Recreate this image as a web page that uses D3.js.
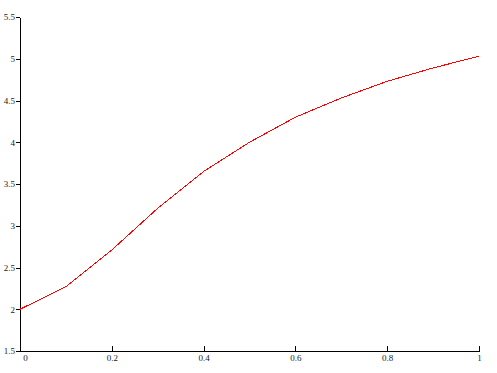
<!DOCTYPE html>
<html>
<head>
<meta charset="utf-8">
<script src="https://cdnjs.cloudflare.com/ajax/libs/d3/7.8.5/d3.min.js"></script>
<style>
  body { margin: 0; background: #fff; }
  .axis text { font-family: "Liberation Serif", serif; font-size: 9px; fill: #222; }
  .axis path, .axis line { stroke: #000; shape-rendering: crispEdges; }
  .line { fill: none; stroke: #ff0000; stroke-width: 1; shape-rendering: crispEdges; }
</style>
</head>
<body>
<div id="chart"></div>
<script>
var xValues = [0, 0.1, 0.2, 0.3, 0.4, 0.5, 0.6, 0.7, 0.8, 0.9, 1];
var yValues = [2.0, 2.27, 2.71, 3.21, 3.65, 4.0, 4.3, 4.53, 4.73, 4.89, 5.03];
var xTicks = [0, 0.2, 0.4, 0.6, 0.8, 1];
var yTicks = [1.5, 2, 2.5, 3, 3.5, 4, 4.5, 5, 5.5];

var width = 497, height = 373;

var svg = d3.select("#chart").append("svg")
    .attr("width", width)
    .attr("height", height);

var x = d3.scaleLinear().domain([0, 1]).range([20, 479]);
var y = d3.scaleLinear().domain([1.5, 5.5]).range([351, 17]);

var xAxis = d3.axisBottom(x).tickValues(xTicks).tickSizeInner(-5).tickSizeOuter(0).tickPadding(4)
    .tickFormat(function(d) { return d3.format("")(d); });
var yAxis = d3.axisLeft(y).tickValues(yTicks).tickSizeInner(4).tickSizeOuter(0).tickPadding(1)
    .tickFormat(function(d) { return d3.format("")(d); });

var gx = svg.append("g").attr("class", "x axis")
    .attr("transform", "translate(0,351)")
    .call(xAxis);
// first label nudged right so it clears the y axis
gx.selectAll(".tick text").filter(function(d) { return d === 0; }).attr("dx", 5);

svg.append("g").attr("class", "y axis")
    .attr("transform", "translate(20,0)")
    .call(yAxis);

var data = xValues.map(function(v, i) { return {x: v, y: yValues[i]}; });

svg.append("path")
    .datum(data)
    .attr("class", "line")
    .attr("d", d3.line()
        .x(function(d) { return x(d.x); })
        .y(function(d) { return y(d.y); }));
</script>
</body>
</html>
